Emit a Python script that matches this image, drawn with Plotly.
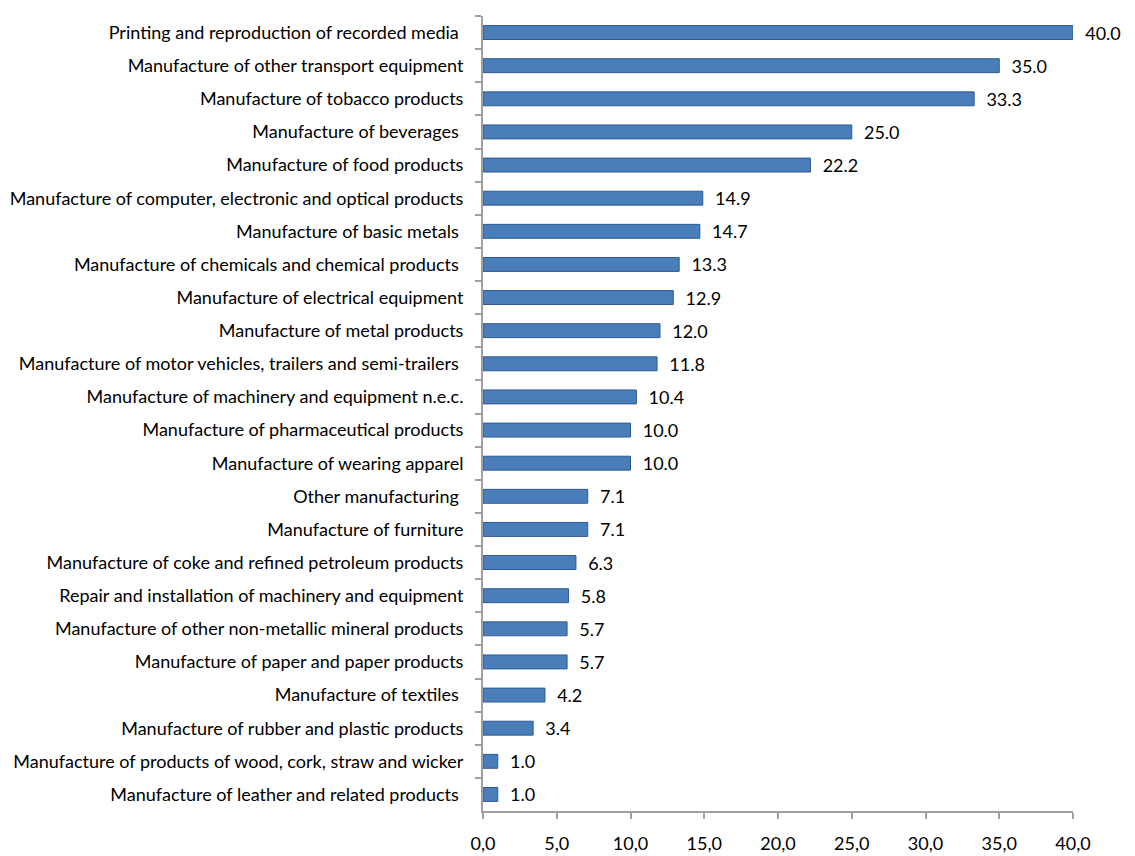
import plotly.graph_objects as go

categories = [
    "Printing and reproduction of recorded media ",
    "Manufacture of other transport equipment",
    "Manufacture of tobacco products",
    "Manufacture of beverages ",
    "Manufacture of food products",
    "Manufacture of computer, electronic and optical products",
    "Manufacture of basic metals ",
    "Manufacture of chemicals and chemical products ",
    "Manufacture of electrical equipment",
    "Manufacture of metal products",
    "Manufacture of motor vehicles, trailers and semi-trailers ",
    "Manufacture of machinery and equipment n.e.c.",
    "Manufacture of pharmaceutical products",
    "Manufacture of wearing apparel",
    "Other manufacturing ",
    "Manufacture of furniture",
    "Manufacture of coke and refined petroleum products",
    "Repair and installation of machinery and equipment",
    "Manufacture of other non-metallic mineral products",
    "Manufacture of paper and paper products",
    "Manufacture of textiles ",
    "Manufacture of rubber and plastic products",
    "Manufacture of products of wood, cork, straw and wicker",
    "Manufacture of leather and related products ",
]
values = [40.0, 35.0, 33.3, 25.0, 22.2, 14.9, 14.7, 13.3, 12.9, 12.0, 11.8, 10.4,
          10.0, 10.0, 7.1, 7.1, 6.3, 5.8, 5.7, 5.7, 4.2, 3.4, 1.0, 1.0]
tick_vals = [0, 5, 10, 15, 20, 25, 30, 35, 40]
tick_text = ["0,0", "5,0", "10,0", "15,0", "20,0", "25,0", "30,0", "35,0", "40,0"]

font_family = "Lato, Open Sans, sans-serif"

fig = go.Figure(go.Bar(
    x=values,
    y=categories,
    orientation="h",
    width=0.42,
    marker=dict(color="#4A7EBB", line=dict(color="#2F5A8F", width=1)),
    text=["\u00a0\u00a0" + f"{v:.1f}" for v in values],
    textposition="outside",
    constraintext="none",
    textfont=dict(size=18, color="#000000", family=font_family),
    cliponaxis=False,
))

fig.update_layout(
    width=1135, height=856,
    margin=dict(l=483, r=62, t=16, b=45),
    paper_bgcolor="white", plot_bgcolor="white",
    showlegend=False,
    font=dict(family=font_family, size=18, color="#000000"),
    xaxis=dict(
        range=[0, 40], tickvals=tick_vals, ticktext=tick_text,
        automargin=False,
        showgrid=False, zeroline=False,
        showline=True, linecolor="#A0A0A0", linewidth=2,
        ticks="outside", tickcolor="#A0A0A0", ticklen=6, tickwidth=2,
        tickfont=dict(size=18, family=font_family),
        ticklabelstandoff=9,
    ),
    yaxis=dict(
        autorange="reversed", type="category",
        automargin=False,
        showgrid=False, zeroline=False,
        showline=True, linecolor="#A0A0A0", linewidth=2,
        ticks="outside", tickson="boundaries", tickcolor="#A0A0A0", ticklen=6, tickwidth=2,
        tickfont=dict(size=18, family=font_family),
        ticklabelstandoff=14,
    ),
)

fig.write_html("out.html")
